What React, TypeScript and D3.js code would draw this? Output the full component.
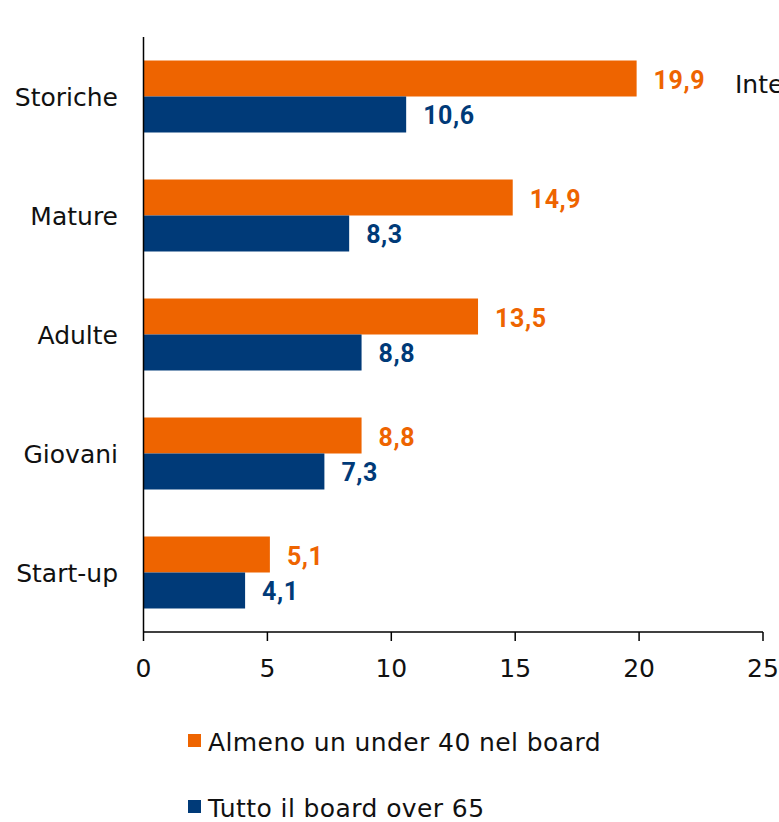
import React from "react";
import * as d3 from "d3";

const categories = ["Storiche", "Mature", "Adulte", "Giovani", "Start-up"];
const under40 = [19.9, 14.9, 13.5, 8.8, 5.1];
const over65 = [10.6, 8.3, 8.8, 7.3, 4.1];
const xTicks = [0, 5, 10, 15, 20, 25];
const seriesNames = ["Almeno un under 40 nel board", "Tutto il board over 65"];
const sideLabel = "Intero campione";

const ORANGE = "#EE6400";
const BLUE = "#003A78";
const FONT = "'DejaVu Sans', sans-serif";
const BOLD_FONT = "Roboto, 'Open Sans', sans-serif";

export default function App() {
  React.useEffect(() => {
    document.body.style.margin = "0";
  }, []);
  const W = 779;
  const H = 822;
  const x = d3.scaleLinear().domain([0, 25]).range([143.5, 763]);
  const y = d3.scaleBand<string>().domain(categories).range([37, 632]).paddingInner(0.395).paddingOuter(0.1975);
  const bh = y.bandwidth() / 2;
  const fmt = (v: number) => v.toFixed(1).replace(".", ",");
  const series = [
    { vals: under40, color: ORANGE, off: 0 },
    { vals: over65, color: BLUE, off: bh },
  ];
  return (
    <svg width={W} height={H} style={{ display: "block", fontFamily: FONT }}>
      {series.map((s, si) =>
        categories.map((c, i) => (
          <g key={`${si}-${i}`}>
            <rect x={x(0)} y={(y(c) as number) + s.off} width={x(s.vals[i]) - x(0)} height={bh} fill={s.color} />
            <text
              x={x(s.vals[i]) + 17}
              y={(y(c) as number) + s.off + bh / 2 + 10}
              fill={s.color}
              fontFamily={BOLD_FONT}
              fontWeight="bold"
              fontSize={25}
              letterSpacing={0.6}
            >
              {fmt(s.vals[i])}
            </text>
          </g>
        ))
      )}
      <text x={735} y={93} fontSize={25} fill="#111">{sideLabel}</text>
      {categories.map((c) => (
        <text key={c} x={118} y={(y(c) as number) + bh + 9} textAnchor="end" fontSize={25} fill="#111">
          {c}
        </text>
      ))}
      <line x1={x(0)} x2={x(0)} y1={37} y2={632} stroke="#000" strokeWidth={1.5} />
      <line x1={x(0)} x2={x(25)} y1={632} y2={632} stroke="#000" strokeWidth={1.5} />
      {xTicks.map((t) => (
        <g key={t}>
          <line x1={x(t)} x2={x(t)} y1={632} y2={641} stroke="#000" strokeWidth={1.5} />
          <text x={x(t)} y={677} textAnchor="middle" fontSize={25} fill="#111">
            {t}
          </text>
        </g>
      ))}
      {seriesNames.map((n, i) => (
        <g key={n}>
          <rect x={188} y={734 + i * 66} width={13} height={13} fill={i === 0 ? ORANGE : BLUE} />
          <text x={208} y={751 + i * 66} fontSize={25} letterSpacing={0.4} fill="#111">
            {n}
          </text>
        </g>
      ))}
    </svg>
  );
}
